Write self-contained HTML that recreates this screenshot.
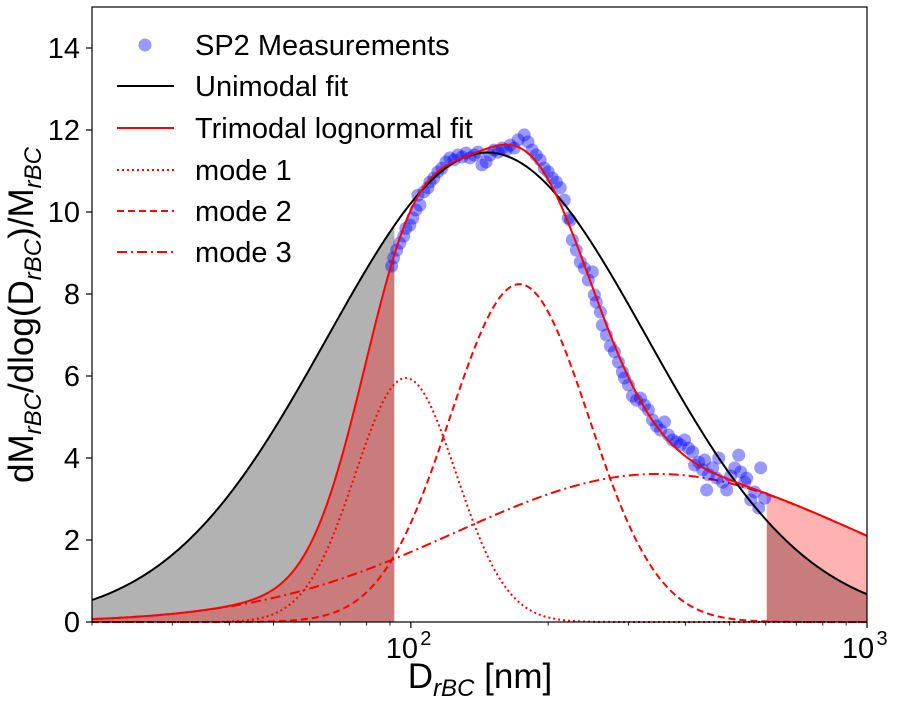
<!DOCTYPE html>
<html><head><meta charset="utf-8"><style>
body{margin:0;background:#fff;width:898px;height:697px;overflow:hidden;font-family:"Liberation Sans","DejaVu Sans",sans-serif}
svg text{font-family:"Liberation Sans","DejaVu Sans",sans-serif}
</style></head><body>
<svg id="chart" width="898" height="697" xmlns="http://www.w3.org/2000/svg"></svg>
<script>
const measD=[90.8,91.7,93.1,94.6,96.5,97.5,99.5,101.0,102.6,103.6,104.7,106.8,109.0,110.1,112.3,114.6,117.0,119.4,121.8,124.3,126.8,129.5,132.1,134.8,137.6,140.4,143.2,146.2,149.2,152.2,155.4,158.5,161.8,165.1,168.5,171.9,177.2,180.7,184.5,188.3,192.1,196.1,200.1,204.2,208.4,212.6,217.0,221.4,223.7,225.9,230.5,235.2,240.0,244.9,250.0,252.5,255.0,260.3,262.9,268.3,273.8,279.4,285.1,290.9,293.9,299.9,306.0,312.3,318.7,325.2,331.8,338.6,345.6,352.7,359.8,367.2,374.7,382.4,390.2,398.1,406.3,414.6,418.8,427.4,436.1,440.6,445.1,449.6,458.8,468.2,473.0,482.6,492.5,502.5,512.8,523.3,528.6,539.4,544.9,556.0,567.3,579.0,584.8,596.8];
const measV=[8.68,8.88,9.07,9.24,9.41,9.6,9.68,9.85,10.05,10.41,10.17,10.49,10.59,10.73,10.83,10.98,11.07,11.22,11.32,11.27,11.39,11.34,11.44,11.32,11.39,11.46,11.15,11.22,11.39,11.51,11.46,11.56,11.51,11.63,11.56,11.76,11.88,11.71,11.51,11.39,11.27,11.07,10.98,10.83,10.73,10.59,10.29,9.85,9.80,9.32,9.07,8.78,8.63,8.34,8.54,7.98,7.80,7.56,7.24,7.0,6.73,6.59,6.34,6.10,5.95,5.78,5.51,5.41,5.46,5.29,5.17,4.93,4.78,4.68,4.88,4.56,4.44,4.39,4.32,4.44,4.24,4.15,3.83,3.90,3.71,3.95,3.22,3.59,3.76,3.51,4.0,3.41,3.22,3.56,3.76,4.07,3.66,3.41,3.51,2.98,3.17,2.78,3.76,3.02];
// lognormal params: [amplitude, median D (nm), 2*ln(sigma)^2]
const unimodal=[11.45,147,1.3];
const mode1=[5.95,97.5,0.13];
const mode2=[8.24,173,0.245];
const mode3=[3.61,347,2.07];
const cutLeft=92, cutRight=603;
const xTicks=[100,1000], xTickLabels=["10","10"];
const yTicks=[0,2,4,6,8,10,12,14];

const L=92,R=867,T=7,B=622,xmin=20,xmax=1000,ymax=15;
const sx=d=>L+(Math.log10(d)-Math.log10(xmin))/(Math.log10(xmax)-Math.log10(xmin))*(R-L);
const sy=v=>B-v/ymax*(B-T);
const ln=(p,d)=>p[0]*Math.exp(-Math.pow(Math.log(d/p[1]),2)/p[2]);
const tri=d=>ln(mode1,d)+ln(mode2,d)+ln(mode3,d);
const uni=d=>ln(unimodal,d);
const svg=document.getElementById('chart');
const NS='http://www.w3.org/2000/svg';
function mk(tag,attrs,parent){const e=document.createElementNS(NS,tag);for(const k in attrs)e.setAttribute(k,attrs[k]);(parent||svg).appendChild(e);return e;}
const grid=[];for(let i=0;i<=500;i++){grid.push(Math.pow(10,Math.log10(xmin)+i/500*(Math.log10(xmax)-Math.log10(xmin))));}
function path(f,lo,hi){let s='';grid.filter(d=>d>=lo&&d<=hi).forEach((d,i)=>{s+=(i?'L':'M')+sx(d).toFixed(2)+','+sy(f(d)).toFixed(2);});return s;}
function area(f,lo,hi){const pts=[lo].concat(grid.filter(d=>d>lo&&d<hi)).concat([hi]);let s='M'+sx(lo)+','+B;pts.forEach(d=>{s+='L'+sx(d).toFixed(2)+','+sy(f(d)).toFixed(2);});s+='L'+sx(hi)+','+B+'Z';return s;}
let e;
e=mk('path',{d:area(uni,xmin,cutLeft),fill:'#b2b2b2'});

e=mk('path',{d:area(uni,cutRight,xmax),fill:'#b2b2b2'});

e=mk('path',{d:area(tri,xmin,cutLeft),fill:'rgba(255,0,0,0.3)'});

e=mk('path',{d:area(tri,cutRight,xmax),fill:'rgba(255,0,0,0.3)'});

e=mk('path',{d:path(d=>ln(mode1,d),xmin,xmax),fill:'none',stroke:'#f00','stroke-width':2,'stroke-dasharray':'2,3'});

e=mk('path',{d:path(d=>ln(mode2,d),xmin,xmax),fill:'none',stroke:'#f00','stroke-width':2,'stroke-dasharray':'7,4'});

e=mk('path',{d:path(d=>ln(mode3,d),xmin,xmax),fill:'none',stroke:'#f00','stroke-width':2,'stroke-dasharray':'10,4,2,4'});

measD.forEach((d,i)=>{const c=mk('circle',{cx:sx(d),cy:sy(measV[i]),r:6.5,fill:'rgba(0,0,255,0.4)'});

});
e=mk('path',{d:path(uni,xmin,xmax),fill:'none',stroke:'#000','stroke-width':2});

e=mk('path',{d:path(tri,xmin,xmax),fill:'none',stroke:'#f00','stroke-width':2});

e=mk('rect',{x:L,y:T,width:R-L,height:B-T,fill:'none',stroke:'#000','stroke-width':1.2});

yTicks.forEach(v=>{mk('line',{x1:L-6,x2:L,y1:sy(v),y2:sy(v),stroke:'#000','stroke-width':1.2});
const t=mk('text',{x:L-12,y:sy(v)+10,'font-size':29,'text-anchor':'end'});t.textContent=v;
});
for(let dec=10;dec<=1000;dec*=10)for(let m=1;m<10;m++){const d=dec*m;if(d<xmin||d>xmax)continue;const major=(m===1);
mk('line',{x1:sx(d),x2:sx(d),y1:B,y2:B+(major?6:3.5),stroke:'#000','stroke-width':major?1.2:0.9});}
xTicks.forEach((d,i)=>{const t=mk('text',{x:sx(d)-9,y:B+36,'font-size':29,'text-anchor':'middle'});t.textContent=xTickLabels[i];

const s=mk('text',{x:sx(d)+15,y:B+23,'font-size':20,'text-anchor':'middle'});s.textContent=String(Math.round(Math.log10(d)));});
</script>
<svg style="position:absolute;left:0;top:0" width="898" height="697">
<text x="480" y="688" font-size="35" text-anchor="middle">D<tspan font-size="24" dy="8" font-style="italic">rBC</tspan><tspan dy="-8"> [nm]</tspan></text>
<text transform="translate(33,315) rotate(-90)" font-size="35" text-anchor="middle">dM<tspan font-size="24" dy="8" font-style="italic">rBC</tspan><tspan dy="-8">/dlog(D</tspan><tspan font-size="24" dy="8" font-style="italic">rBC</tspan><tspan dy="-8">)/M</tspan><tspan font-size="24" dy="8" font-style="italic">rBC</tspan></text>
<g font-size="29">
<circle cx="145" cy="45" r="6.5" fill="rgba(0,0,255,0.4)"/>
<text x="195" y="55">SP2 Measurements</text>
<line x1="117" x2="174" y1="86" y2="86" stroke="#000" stroke-width="2"/>
<text x="195" y="96">Unimodal fit</text>
<line x1="117" x2="174" y1="128" y2="128" stroke="#f00" stroke-width="2"/>
<text x="195" y="138">Trimodal lognormal fit</text>
<line x1="117" x2="174" y1="170" y2="170" stroke="#f00" stroke-width="2" stroke-dasharray="2,3"/>
<text x="195" y="180">mode 1</text>
<line x1="117" x2="174" y1="211" y2="211" stroke="#f00" stroke-width="2" stroke-dasharray="7,4"/>
<text x="195" y="221">mode 2</text>
<line x1="117" x2="174" y1="252" y2="252" stroke="#f00" stroke-width="2" stroke-dasharray="10,4,2,4"/>
<text x="195" y="262">mode 3</text>
</g>
</svg>
</body></html>
